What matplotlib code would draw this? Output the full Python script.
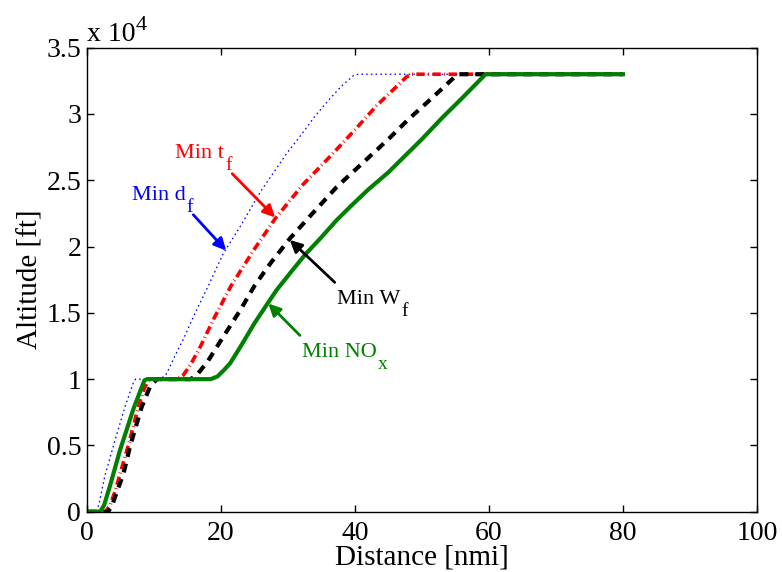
import matplotlib
matplotlib.use("Agg")
import matplotlib.pyplot as plt
from matplotlib.ticker import FuncFormatter

plt.rcParams['font.family'] = ['Liberation Serif', 'DejaVu Serif']
plt.rcParams['lines.scale_dashes'] = False

# Distance [nmi] and altitude [ft]
dist_df = [0, 1.3, 1.8, 2.7, 4.0, 5.7, 7.0, 7.3, 11.0, 11.9, 13.4, 14.4, 16, 18.1, 20.4,
           23, 26, 29.8, 31.8, 34, 36, 38, 39.8, 40.5, 80]
alt_df = [0, 0, 500, 2700, 5000, 7900, 9800, 10000, 10000, 10400, 12000, 13000, 14800,
          17000, 19500, 21600, 24200, 27000, 28300, 29800, 31000, 32100, 32900, 33000, 33000]

dist_tf = [0, 2.8, 3.5, 4.2, 5.0, 6.2, 7.7, 8.6, 9.3, 13.5, 14.4, 15.5, 17, 19, 21.6, 25,
           28.1, 32.3, 36.5, 40, 43.2, 47.7, 48.5, 80]
alt_tf = [0, 0, 500, 1500, 2900, 5000, 7900, 9300, 10000, 10000, 10300, 11100, 12500,
          14600, 17100, 19800, 22100, 24700, 26900, 28800, 30600, 32800, 33000, 33000]

dist_wf = [0, 3.2, 3.8, 4.5, 5.5, 6.5, 8.2, 9.5, 10.5, 15.5, 16.4, 18, 20, 22.9, 25.1,
           27.5, 30.3, 33.5, 37.3, 41.8, 45, 48, 51.5, 54.9, 55.5, 80]
alt_wf = [0, 0, 500, 1500, 2900, 5000, 7900, 9500, 10000, 10000, 10300, 11300, 12900,
          15200, 17100, 18800, 20600, 22400, 24500, 26600, 28100, 29600, 31200, 32800,
          33000, 33000]

dist_nox = [0, 2.0, 2.6, 3.5, 5.0, 7.0, 8.6, 9.0, 18.5, 19.5, 20.5, 21.4, 23, 25, 27.1,
            28.3, 30.5, 32.6, 35, 37.3, 39.5, 42, 45, 47, 50, 53, 56, 59.5, 80]
alt_nox = [0, 0, 500, 2000, 4700, 7800, 9900, 10000, 10000, 10200, 10700, 11200, 12500,
           14200, 15800, 16700, 18100, 19400, 20700, 22000, 23100, 24300, 25600, 26600,
           28100, 29700, 31200, 33000, 33000]

xticks = [0, 20, 40, 60, 80, 100]
yticks = [0, 5000, 10000, 15000, 20000, 25000, 30000, 35000]

fig = plt.figure(figsize=(7.82, 5.72), dpi=100)
ax = fig.add_axes([0.1109, 0.1054, 0.8572, 0.8112])

ax.plot(dist_df, alt_df, color=(0, 0, 1), lw=0.9, dashes=(1.2, 2.2))
ax.plot(dist_tf, alt_tf, color=(1, 0, 0), lw=2.6, dashes=(6, 2.5, 0.6, 2.5))
ax.plot(dist_wf, alt_wf, color='black', lw=3.0, dashes=(6.5, 5))
ax.plot(dist_nox, alt_nox, color=(0, 0.5, 0), lw=3.0, solid_joinstyle='round')

ax.set_xlim(0, 100)
ax.set_ylim(0, 35000)
ax.set_xticks(xticks)
ax.set_yticks(yticks)
ax.yaxis.set_major_formatter(FuncFormatter(lambda v, p: '%g' % (v / 1e4)))
ax.tick_params(direction='in', length=5, width=1, top=True, right=True,
               labelsize=20)
ax.tick_params(axis='x', pad=7)
ax.tick_params(axis='y', pad=4)
for s in ax.spines.values():
    s.set_linewidth(1.0)

ax.set_xlabel('Distance [nmi]', fontsize=21, labelpad=-1.5)
ax.set_ylabel('Altitude [ft]', fontsize=21, labelpad=2)

# "x 10^4" exponent label
t_exp = ax.text(0.0, 1.015, 'x 10', transform=ax.transAxes, fontsize=20,
                ha='left', va='baseline')
ax.annotate('4', xy=(1, 0), xycoords=t_exp, xytext=(0.5, 12),
            textcoords='offset points', fontsize=16, ha='left', va='baseline')

arrow = dict(arrowstyle='-|>', lw=2, mutation_scale=18, shrinkA=0, shrinkB=0)


def note(main, sub, txy, tail, tip, color):
    t = ax.text(txy[0], txy[1], main, color=color, fontsize=16,
                ha='left', va='baseline')
    ax.annotate(sub, xy=(1, 0), xycoords=t, xytext=(0.8, -5),
                textcoords='offset points', color=color, fontsize=14,
                ha='left', va='baseline')
    ax.annotate('', xy=tip, xytext=tail, arrowprops=dict(arrow, color=color))


note('Min d', 'f', (6.76, 23500), (15.9, 22400), (20.8, 19700), (0, 0, 1))
note('Min t', 'f', (13.2, 26700), (21.7, 25500), (28.1, 22200), (1, 0, 0))
note('Min W', 'f', (37.3, 15660), (37.0, 17300), (30.3, 20500), 'black')
note('Min NO', 'x', (32.1, 11640), (31.8, 13300), (27.1, 15700), (0, 0.5, 0))

fig.savefig('out.png', dpi=100)
